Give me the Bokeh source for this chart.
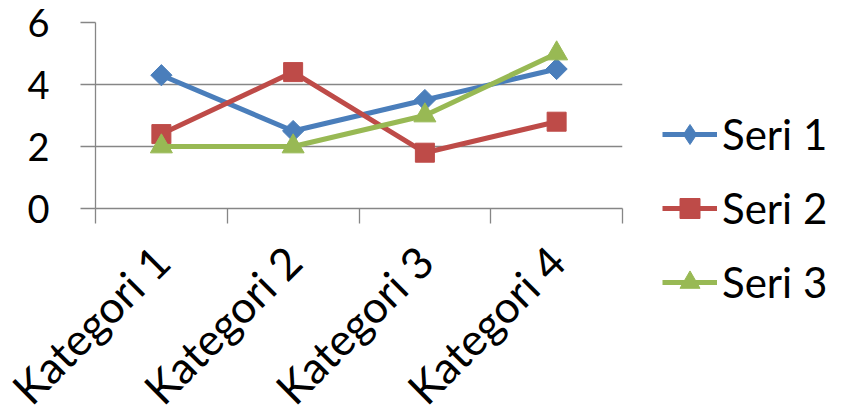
import math
from bokeh.plotting import figure
from bokeh.models import Range1d, FixedTicker, Legend, LegendItem
from bokeh.embed import file_html
from bokeh.resources import INLINE

categories = ["Kategori 1", "Kategori 2", "Kategori 3", "Kategori 4"]
seri1 = [4.3, 2.5, 3.5, 4.5]
seri2 = [2.4, 4.4, 1.8, 2.8]
seri3 = [2.0, 2.0, 3.0, 5.0]
series_names = ["Seri 1", "Seri 2", "Seri 3"]
y_ticks = [0, 2, 4, 6]

xs = [i + 0.5 for i in range(len(categories))]
bounds = list(range(len(categories) + 1))

FONT = "Lato"
GRAY = "#868686"

p = figure(width=843, height=412, frame_width=527, frame_height=186,
           output_backend="svg", toolbar_location=None,
           x_range=Range1d(0, len(categories)), y_range=Range1d(0, 6),
           min_border_left=95, min_border_right=221, min_border_top=22,
           min_border_bottom=204)
p.outline_line_color = None
p.background_fill_color = "white"
p.border_fill_color = "white"
p.xgrid.visible = False
p.ygrid.grid_line_color = GRAY
p.ygrid.grid_line_width = 1.3
p.ygrid.ticker = FixedTicker(ticks=y_ticks)

xa = p.xaxis[0]
xa.ticker = FixedTicker(ticks=xs, minor_ticks=bounds)
xa.major_label_overrides = {x: c for x, c in zip(xs, categories)}
xa.major_tick_out = 0
xa.major_tick_in = 0
xa.minor_tick_out = 15
xa.minor_tick_in = 0
xa.minor_tick_line_color = GRAY
xa.minor_tick_line_width = 1.3
xa.axis_line_color = GRAY
xa.axis_line_width = 1.3
xa.major_label_orientation = math.pi / 4
xa.major_label_standoff = 30
xa.major_label_text_font = FONT
xa.major_label_text_font_size = "44px"
xa.major_label_text_color = "black"

ya = p.yaxis[0]
ya.ticker = FixedTicker(ticks=y_ticks)
ya.major_tick_out = 15
ya.major_tick_in = 0
ya.major_tick_line_color = GRAY
ya.major_tick_line_width = 1.3
ya.minor_tick_out = 0
ya.axis_line_color = GRAY
ya.axis_line_width = 1.3
ya.major_label_standoff = 31
ya.major_label_text_font = FONT
ya.major_label_text_font_size = "38px"
ya.major_label_text_color = "black"

colors = ["#4A7EBB", "#BE4B48", "#98B954"]
markers = [("square", 15, math.pi / 4), ("square", 19, 0), ("triangle", 22, 0)]
items = []
for i, (name, vals, col, (mk, sz, ang)) in enumerate(zip(series_names, [seri1, seri2, seri3], colors, markers)):
    l = p.line(xs, vals, line_width=5, line_color=col)
    s = p.scatter(xs, vals, marker=mk, size=sz, angle=ang, fill_color=col, line_color=col)
    if i == 0:
        # diamond shape used only for the legend swatch
        s = p.scatter(xs, vals, marker="diamond", size=0, fill_color=col, line_color=col)
    items.append(LegendItem(label=name, renderers=[l, s]))

legend = Legend(items=items, location=(40, -99))
legend.border_line_color = None
legend.background_fill_alpha = 0
legend.padding = 0
legend.margin = 0
legend.spacing = 24
legend.glyph_width = 55
legend.glyph_height = 50
legend.label_height = 50
legend.label_standoff = 5
legend.label_text_font = FONT
legend.label_text_font_size = "42px"
legend.label_text_color = "black"
p.add_layout(legend, "right")

open("out.html", "w").write(file_html(p, INLINE))
